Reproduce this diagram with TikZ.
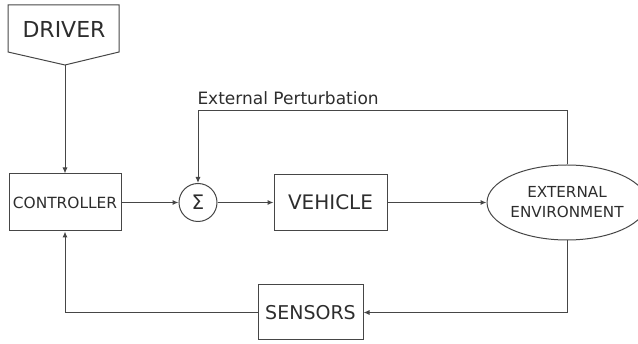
\documentclass[tikz,border=0pt]{standalone}
\usepackage{fontspec}
\setmainfont{DejaVu Sans}
\usepackage{xcolor}
\usepackage{tikz}
\usetikzlibrary{
	arrows.meta,
	shapes.geometric
}
\definecolor{LineGray}{RGB}{70,70,70}
\definecolor{TextGray}{RGB}{45,45,45}

\begin{document}
\begin{tikzpicture}[x=1pt, y=-1pt, line width=1pt, draw=LineGray, text=TextGray,
	block/.style={draw=LineGray, rectangle, inner sep=0pt},
	sumnode/.style={draw=LineGray, circle, minimum size=38pt, inner sep=0pt},
	flow/.style={-{Latex[length=6pt, width=5pt]}, draw=LineGray}]
	\useasboundingbox (0,0) rectangle (638,344);
	
	% 驾驶员 (五边形)
	\draw (8,5) -- (119,5) -- (119,52) -- (65,65) -- (8,52) -- cycle;
	\node[font=\fontsize{22}{26}\selectfont] (driver) at (64,29) {DRIVER};
	\coordinate (drivertip) at (65,65);
	
	% 主通道
	\node[block, minimum width=112pt, minimum height=57pt, font=\fontsize{15.4}{18}\selectfont] (ctrl) at (65,202.5) {CONTROLLER};
	\node[sumnode, font=\fontsize{20}{24}\selectfont] (sum) at (198,202.5) {Σ};
	\node[block, minimum width=113pt, minimum height=56pt, font=\fontsize{20}{24}\selectfont] (veh) at (330.5,202.5) {VEHICLE};
	\node[draw=LineGray, ellipse, minimum width=140pt, minimum height=75pt, inner sep=0pt, align=center,
		font=\fontsize{15.2}{20}\selectfont] (env) at (567,202.5) {EXTERNAL\\ENVIRONMENT};
	\node[block, minimum width=105pt, minimum height=55pt, font=\fontsize{19}{22}\selectfont] (sens) at (310.5,312.5) {SENSORS};
	
	\draw[flow] (drivertip) -- (ctrl.north);
	\draw[flow] (ctrl) -- (sum);
	\draw[flow] (sum) -- (veh);
	\draw[flow] (veh) -- (env);
	
	% 外部扰动
	\coordinate (pert) at (198,111);
	\draw[flow] (env.north) -- (env.north |- pert) -| (sum.north);
	\node[anchor=base west, inner sep=0pt, font=\fontsize{17}{20}\selectfont] (pertlabel) at (197,105) {External Perturbation};
	
	% 反馈回路
	\draw[flow] (env.south) |- (sens.east);
	\draw[flow] (sens.west) -| (ctrl.south);
\end{tikzpicture}
\end{document}
